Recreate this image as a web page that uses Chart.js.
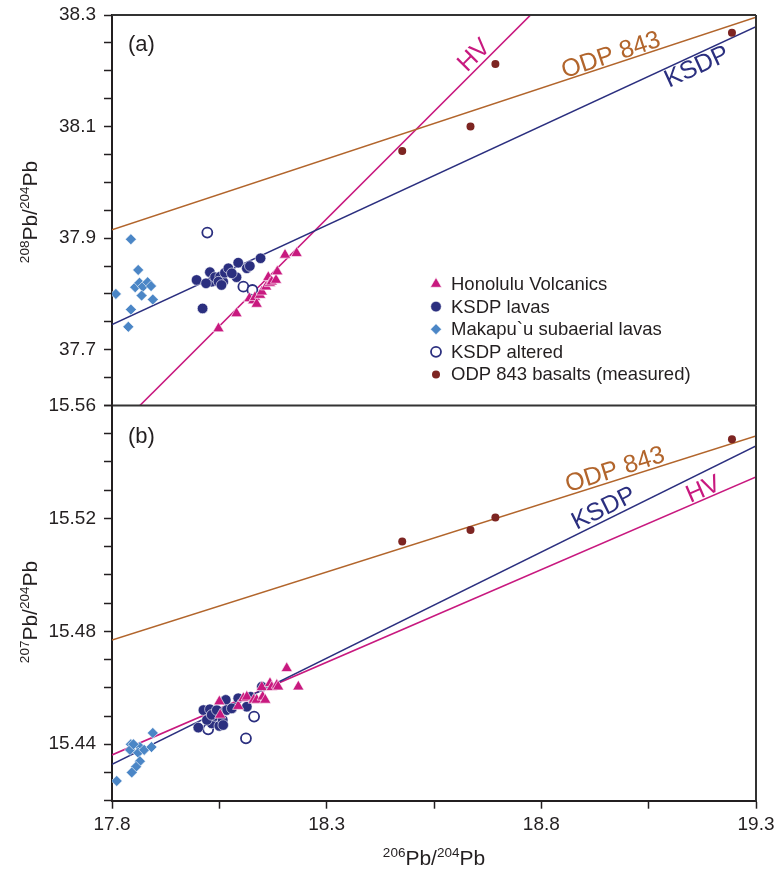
<!DOCTYPE html>
<html>
<head>
<meta charset="utf-8">
<title>Pb isotopes</title>
<script src="https://cdn.jsdelivr.net/npm/chart.js@4.4.0/dist/chart.umd.min.js"></script>
<style>
  html, body { margin: 0; padding: 0; background: #fff; }
  #wrap { position: relative; width: 776px; height: 875px; }
  canvas { position: absolute; left: 0; }
  #topChart { top: 0; }
  #botChart { top: 390px; }
</style>
</head>
<body>
<div id="wrap">
  <canvas id="topChart" width="776" height="420" style="width:776px;height:420px"></canvas>
  <canvas id="botChart" width="776" height="485" style="width:776px;height:485px"></canvas>
</div>
<script>
// ---- data ----
// panel (a): 208Pb/204Pb vs 206Pb/204Pb
const hvPb206a = [18.048, 18.090, 18.120, 18.129, 18.133, 18.137, 18.145, 18.149, 18.159, 18.164, 18.168, 18.172, 18.182, 18.185, 18.203, 18.230];
const hvPb208 = [37.738, 37.765, 37.792, 37.788, 37.794, 37.782, 37.798, 37.804, 37.813, 37.830, 37.819, 37.822, 37.825, 37.840, 37.870, 37.873];

const ksdpPb206a = [17.997, 18.011, 18.028, 18.032, 18.019, 18.040, 18.052, 18.059, 18.063, 18.071, 18.090, 18.094, 18.114, 18.121, 18.146, 18.048, 18.079, 18.055];
const ksdpPb208 = [37.825, 37.774, 37.839, 37.822, 37.819, 37.830, 37.831, 37.822, 37.838, 37.846, 37.830, 37.856, 37.846, 37.850, 37.864, 37.822, 37.837, 37.816];

const makaPb206a = [17.844, 17.861, 17.809, 17.854, 17.864, 17.872, 17.883, 17.891, 17.869, 17.895, 17.844, 17.838];
const makaPb208 = [37.898, 37.843, 37.800, 37.812, 37.820, 37.813, 37.821, 37.814, 37.797, 37.790, 37.772, 37.741];

const altPb206a = [18.022, 18.106, 18.127];
const altPb208 = [37.910, 37.813, 37.807];

const odpPb206 = [18.476, 18.635, 18.693, 19.244];
const odpPb208 = [38.056, 38.100, 38.212, 38.268];

// panel (b): 207Pb/204Pb vs 206Pb/204Pb
const hvPb206b = [18.050, 18.052, 18.094, 18.106, 18.114, 18.130, 18.137, 18.149, 18.151, 18.157, 18.168, 18.172, 18.184, 18.187, 18.207, 18.234];
const hvPb207 = [15.4551, 15.4504, 15.4535, 15.4563, 15.4568, 15.4557, 15.4557, 15.4602, 15.4568, 15.4557, 15.4616, 15.4602, 15.4610, 15.4604, 15.4669, 15.4604];

const ksdpPb206b = [18.001, 18.013, 18.028, 18.032, 18.040, 18.050, 18.058, 18.065, 18.067, 18.079, 18.094, 18.114, 18.123, 18.149, 18.021, 18.032, 18.059, 18.044];
const ksdpPb207 = [15.4459, 15.4521, 15.4524, 15.4474, 15.4500, 15.4465, 15.4486, 15.4557, 15.4521, 15.4527, 15.4563, 15.4533, 15.4568, 15.4604, 15.4486, 15.4504, 15.4468, 15.4521];

const makaPb206b = [17.811, 17.844, 17.842, 17.865, 17.861, 17.875, 17.892, 17.895, 17.865, 17.856, 17.846, 17.850];
const makaPb207 = [15.427, 15.440, 15.438, 15.439, 15.437, 15.438, 15.439, 15.444, 15.434, 15.432, 15.430, 15.440];

const altPb206b = [18.024, 18.112, 18.131];
const altPb207 = [15.4453, 15.4421, 15.4498];

const odpPb207 = [15.5118, 15.5159, 15.5203, 15.5480];

// reference lines (end points)
const lineX = [17.8, 19.3];
const odpLine208 = [37.915, 38.296];
const ksdpLine208 = [37.745, 38.279];
const hvLineX208 = [17.865, 18.775];
const hvLine208 = [37.6, 38.3];
const odpLine207 = [15.4769, 15.5492];
const ksdpLine207 = [15.4329, 15.5457];
const hvLine207 = [15.4362, 15.5347];

// axes
const xLabels = [17.8, 18.3, 18.8, 19.3];
const yLabelsA = [37.7, 37.9, 38.1, 38.3];
const yLabelsB = [15.44, 15.48, 15.52, 15.56];

// ---- styling ----
const FAMILY = "'Liberation Sans', Arial, Helvetica, sans-serif";
const INK = '#231f20';
const HV_COLOR = '#c8197f';
const KSDP_COLOR = '#2b2f7f';
const MAKA_COLOR = '#4b86c6';
const ODP_LINE = '#b2652c';
const ODP_DOT = '#7d2522';

Chart.defaults.font.family = FAMILY;
Chart.defaults.color = INK;

function pts(xs, ys) {
  return xs.map((x, i) => ({ x: x, y: ys[i] }));
}

function trend(xs, ys, color) {
  return {
    data: pts(xs, ys),
    showLine: true,
    borderColor: color,
    borderWidth: 1.6,
    pointRadius: 0,
    order: 10
  };
}

function marks(label, xs, ys, style, fill, border, radius, bw) {
  return {
    label: label,
    data: pts(xs, ys),
    pointStyle: style,
    backgroundColor: fill,
    borderColor: border,
    pointRadius: radius,
    pointBorderWidth: bw,
    borderWidth: bw,
    showLine: false,
    inLegend: true,
    order: 1
  };
}

function tickList(min, max, step) {
  const out = [];
  const n = Math.round((max - min) / step);
  for (let i = 0; i <= n; i++) out.push({ value: +(min + i * step).toFixed(4) });
  return out;
}

function axisLook() {
  return {
    grid: { drawOnChartArea: false, drawTicks: true, tickLength: 8, tickColor: INK, tickWidth: 1.5 },
    border: { display: true, color: INK, width: 2 }
  };
}

// the layout padding alone sets the plot box, so label overhang is zeroed
function yAxis(min, max, step, labels, decimals) {
  return Object.assign({
    type: 'linear', position: 'left', min: min, max: max,
    afterBuildTicks: s => { s.ticks = tickList(min, max, step); },
    afterFit: s => { s.width = 112; s.paddingTop = 0; s.paddingBottom = 0; },
    ticks: {
      autoSkip: false, padding: 8, color: INK, font: { size: 19 },
      callback: v => labels.some(l => Math.abs(l - v) < 1e-6) ? v.toFixed(decimals) : ''
    }
  }, axisLook());
}

function xAxis(show) {
  return Object.assign({
    type: 'linear', position: 'bottom', min: 17.8, max: 19.3, display: show,
    afterBuildTicks: s => { s.ticks = tickList(17.8, 19.3, 0.25); },
    afterFit: s => { s.height = show ? 40 : 0; s.paddingLeft = 0; s.paddingRight = 0; },
    ticks: {
      autoSkip: false, maxRotation: 0, padding: 5, color: INK, font: { size: 19 },
      callback: v => xLabels.some(l => Math.abs(l - v) < 1e-6) ? v.toFixed(1) : ''
    }
  }, axisLook());
}

// draw "208Pb/204Pb" style labels with superscript mass numbers
function drawIso(ctx, m1, m2, cx, cy, vertical) {
  const big = '21px ' + FAMILY, small = '13.5px ' + FAMILY;
  const parts = [[m1, small, -8], ['Pb/', big, 0], [m2, small, -8], ['Pb', big, 0]];
  ctx.save();
  ctx.translate(cx, cy);
  if (vertical) ctx.rotate(-Math.PI / 2);
  let total = 0;
  parts.forEach(p => { ctx.font = p[1]; total += ctx.measureText(p[0]).width; });
  let x = -total / 2;
  ctx.fillStyle = INK;
  ctx.textAlign = 'left';
  ctx.textBaseline = 'alphabetic';
  parts.forEach(p => {
    ctx.font = p[1];
    ctx.fillText(p[0], x, 7 + p[2]);
    x += ctx.measureText(p[0]).width;
  });
  ctx.restore();
}

function drawMarker(ctx, style, x, y, r, fill, stroke, lw) {
  ctx.beginPath();
  if (style === 'triangle') {
    ctx.moveTo(x, y - r);
    ctx.lineTo(x + r * 0.866, y + r / 2);
    ctx.lineTo(x - r * 0.866, y + r / 2);
    ctx.closePath();
  } else if (style === 'rectRot') {
    ctx.moveTo(x, y - r); ctx.lineTo(x + r, y); ctx.lineTo(x, y + r); ctx.lineTo(x - r, y);
    ctx.closePath();
  } else {
    ctx.arc(x, y, r, 0, Math.PI * 2);
  }
  ctx.fillStyle = fill;
  ctx.fill();
  if (lw) { ctx.lineWidth = lw; ctx.strokeStyle = stroke; ctx.stroke(); }
}

// text placed along a reference line
function drawLineLabel(chart, lbl) {
  const ctx = chart.ctx, xs = chart.scales.x, ys = chart.scales.y;
  const [x0, x1] = lbl.lx, [y0, y1] = lbl.ly;
  const yAt = v => y0 + (y1 - y0) * (v - x0) / (x1 - x0);
  const ang = Math.atan2(ys.getPixelForValue(y1) - ys.getPixelForValue(y0),
                         xs.getPixelForValue(x1) - xs.getPixelForValue(x0));
  ctx.save();
  ctx.translate(xs.getPixelForValue(lbl.at), ys.getPixelForValue(yAt(lbl.at)));
  ctx.rotate(ang);
  ctx.font = '25px ' + FAMILY;
  ctx.fillStyle = lbl.color;
  ctx.textAlign = 'center';
  ctx.textBaseline = 'middle';
  ctx.fillText(lbl.text, 0, -lbl.off);
  ctx.restore();
}

const decor = {
  id: 'decor',
  afterDraw(chart, args, o) {
    const ctx = chart.ctx, a = chart.chartArea;
    ctx.save();
    ctx.strokeStyle = '#333';
    ctx.lineWidth = 2;
    ctx.beginPath();
    ctx.moveTo(a.right, a.top); ctx.lineTo(a.right, a.bottom);
    if (o.frameTop) { ctx.moveTo(a.left, a.top); ctx.lineTo(a.right, a.top); }
    if (o.frameBottom) { ctx.moveTo(a.left, a.bottom); ctx.lineTo(a.right, a.bottom); }
    ctx.stroke();
    ctx.restore();

    drawIso(ctx, o.yMass[0], o.yMass[1], 30, o.yTitleY, true);
    if (o.xMass) drawIso(ctx, o.xMass[0], o.xMass[1], (a.left + a.right) / 2, o.xTitleY, false);

    ctx.save();
    ctx.font = '22px ' + FAMILY;
    ctx.fillStyle = INK;
    ctx.textBaseline = 'middle';
    ctx.fillText(o.panel, 128, o.panelY);
    ctx.restore();

    o.lineLabels.forEach(l => drawLineLabel(chart, l));

    if (o.legend) {
      const L = o.legend;
      let y = L.y;
      chart.data.datasets.filter(d => d.inLegend).forEach(d => {
        drawMarker(ctx, d.pointStyle, L.x, y, d.pointRadius, d.backgroundColor, d.borderColor, d.borderWidth);
        ctx.save();
        ctx.font = '18.5px ' + FAMILY;
        ctx.fillStyle = INK;
        ctx.textBaseline = 'middle';
        ctx.fillText(d.label, L.x + 15, y + 1);
        ctx.restore();
        y += L.dy;
      });
    }
  }
};

function baseOptions(padding) {
  return {
    responsive: false,
    animation: false,
    events: [],
    layout: { padding: padding },
    plugins: { legend: { display: false }, tooltip: { enabled: false } }
  };
}

// ---- panel (a) ----
const topOpts = baseOptions({ top: 15, right: 20, bottom: 14.5, left: 0 });
topOpts.scales = { x: xAxis(false), y: yAxis(37.6, 38.3, 0.05, yLabelsA, 1) };
topOpts.plugins.decor = {
  frameTop: true, frameBottom: true,
  yMass: ['208', '204'], yTitleY: 212,
  panel: '(a)', panelY: 45,
  legend: { x: 436, y: 284, dy: 22.6 },
  lineLabels: [
    { text: 'HV', color: HV_COLOR, lx: hvLineX208, ly: hvLine208, at: 18.662, off: 11 },
    { text: 'ODP 843', color: ODP_LINE, lx: lineX, ly: odpLine208, at: 18.969, off: 9 },
    { text: 'KSDP', color: KSDP_COLOR, lx: lineX, ly: ksdpLine208, at: 19.151, off: -12 }
  ]
};

new Chart(document.getElementById('topChart'), {
  type: 'scatter',
  data: {
    datasets: [
      marks('Honolulu Volcanics', hvPb206a, hvPb208, 'triangle', HV_COLOR, '#fff', 6.5, 0.6),
      marks('KSDP lavas', ksdpPb206a, ksdpPb208, 'circle', KSDP_COLOR, '#fff', 5.3, 0.6),
      marks('Makapu`u subaerial lavas', makaPb206a, makaPb208, 'rectRot', MAKA_COLOR, '#fff', 5.5, 0.6),
      marks('KSDP altered', altPb206a, altPb208, 'circle', '#fff', KSDP_COLOR, 5, 1.8),
      marks('ODP 843 basalts (measured)', odpPb206, odpPb208, 'circle', ODP_DOT, ODP_DOT, 4, 0),
      trend(lineX, odpLine208, ODP_LINE),
      trend(lineX, ksdpLine208, KSDP_COLOR),
      trend(hvLineX208, hvLine208, HV_COLOR)
    ]
  },
  options: topOpts,
  plugins: [decor]
});

// ---- panel (b) ----
const botOpts = baseOptions({ top: 15.5, right: 20, bottom: 34.3, left: 0 });
botOpts.scales = { x: xAxis(true), y: yAxis(15.42, 15.56, 0.01, yLabelsB, 2) };
botOpts.plugins.decor = {
  frameTop: false, frameBottom: false,
  yMass: ['207', '204'], yTitleY: 222,
  xMass: ['206', '204'], xTitleY: 468,
  panel: '(b)', panelY: 47,
  lineLabels: [
    { text: 'ODP 843', color: ODP_LINE, lx: lineX, ly: odpLine207, at: 18.979, off: 10 },
    { text: 'KSDP', color: KSDP_COLOR, lx: lineX, ly: ksdpLine207, at: 18.957, off: 11 },
    { text: 'HV', color: HV_COLOR, lx: lineX, ly: hvLine207, at: 19.186, off: 9 }
  ]
};

new Chart(document.getElementById('botChart'), {
  type: 'scatter',
  data: {
    datasets: [
      marks('Honolulu Volcanics', hvPb206b, hvPb207, 'triangle', HV_COLOR, '#fff', 6.5, 0.6),
      marks('KSDP lavas', ksdpPb206b, ksdpPb207, 'circle', KSDP_COLOR, '#fff', 5.3, 0.6),
      marks('Makapu`u subaerial lavas', makaPb206b, makaPb207, 'rectRot', MAKA_COLOR, '#fff', 5.5, 0.6),
      marks('KSDP altered', altPb206b, altPb207, 'circle', '#fff', KSDP_COLOR, 5, 1.8),
      marks('ODP 843 basalts (measured)', odpPb206, odpPb207, 'circle', ODP_DOT, ODP_DOT, 4, 0),
      trend(lineX, odpLine207, ODP_LINE),
      trend(lineX, ksdpLine207, KSDP_COLOR),
      trend(lineX, hvLine207, HV_COLOR)
    ]
  },
  options: botOpts,
  plugins: [decor]
});
</script>
</body>
</html>
